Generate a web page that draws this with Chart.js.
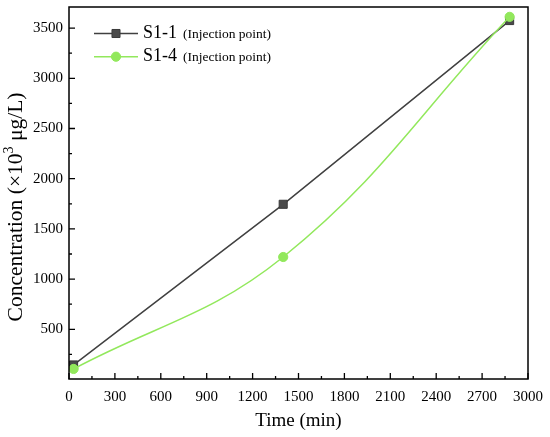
<!DOCTYPE html>
<html>
<head>
<meta charset="utf-8">
<script src="https://cdn.jsdelivr.net/npm/chart.js@4.4.1/dist/chart.umd.min.js"></script>
<style>
    html, body { margin: 0; padding: 0; background: #fff; }
</style>
</head>
<body>
<canvas id="grafico" width="550" height="437"></canvas>
<script>
// Datos
const tiempo = [30, 1400, 2880];              // min
const s1_1 = [145, 1745, 3575];               // x10^3 ug/L
const s1_4 = [105, 1220, 3612];
const nombres = ['S1-1', 'S1-4'];
const nota = '(Injection point)';

const ticksX = [0, 300, 600, 900, 1200, 1500, 1800, 2100, 2400, 2700, 3000];
const menoresX = [150, 450, 750, 1050, 1350, 1650, 1950, 2250, 2550, 2850];
const ticksY = [500, 1000, 1500, 2000, 2500, 3000, 3500];
const menoresY = [250, 750, 1250, 1750, 2250, 2750, 3250];

const fuente = 'Liberation Serif, Times New Roman, serif';
const colores = ['#404040', '#92e85c'];

// Marco, ticks hacia adentro, titulo del eje Y y leyenda
const marcoPlugin = {
    id: 'marco',
    afterDraw(chart) {
        const ctx = chart.ctx;
        const area = chart.chartArea;
        const x = chart.scales.x;
        const y = chart.scales.y;
        ctx.save();

        ctx.strokeStyle = '#000';
        ctx.lineWidth = 1.5;
        ctx.strokeRect(area.left, area.top, area.right - area.left, area.bottom - area.top);

        ctx.lineWidth = 1.3;
        ctx.beginPath();
        ticksX.forEach(v => {
            const px = x.getPixelForValue(v);
            ctx.moveTo(px, area.bottom); ctx.lineTo(px, area.bottom - 6);
        });
        menoresX.forEach(v => {
            const px = x.getPixelForValue(v);
            ctx.moveTo(px, area.bottom); ctx.lineTo(px, area.bottom - 3);
        });
        ticksY.forEach(v => {
            const py = y.getPixelForValue(v);
            ctx.moveTo(area.left, py); ctx.lineTo(area.left + 6, py);
        });
        menoresY.forEach(v => {
            const py = y.getPixelForValue(v);
            ctx.moveTo(area.left, py); ctx.lineTo(area.left + 3, py);
        });
        ctx.stroke();

        // titulo eje Y con superindice
        ctx.translate(16, 207);
        ctx.rotate(-Math.PI / 2);
        ctx.fillStyle = '#000';
        ctx.textBaseline = 'middle';
        ctx.textAlign = 'left';
        const p1 = 'Concentration (\u00d710', sup = '3', p2 = ' \u03bcg/L)';
        ctx.font = '21.5px ' + fuente;
        const w1 = ctx.measureText(p1).width, w2 = ctx.measureText(p2).width;
        ctx.font = '14px ' + fuente;
        const ws = ctx.measureText(sup).width;
        let cx = -(w1 + ws + w2) / 2;
        ctx.font = '21.5px ' + fuente;
        ctx.fillText(p1, cx, 0);
        cx += w1;
        ctx.font = '14px ' + fuente;
        ctx.fillText(sup, cx, -6.5);
        cx += ws;
        ctx.font = '21.5px ' + fuente;
        ctx.fillText(p2, cx, 0);
        ctx.restore();

        // leyenda
        ctx.save();
        const filas = [33.5, 56.7];
        chart.data.datasets.forEach((ds, i) => {
            const fy = filas[i];
            ctx.strokeStyle = ds.borderColor;
            ctx.lineWidth = 1.5;
            ctx.beginPath();
            ctx.moveTo(94, fy); ctx.lineTo(138, fy);
            ctx.stroke();
            ctx.fillStyle = ds.pointBackgroundColor;
            ctx.strokeStyle = ds.pointBorderColor;
            ctx.lineWidth = 1;
            ctx.beginPath();
            if (ds.pointStyle === 'rect') {
                const s = ds.pointRadius * Math.SQRT1_2;
                ctx.rect(116 - s, fy - s, 2 * s, 2 * s);
            } else {
                ctx.arc(116, fy, ds.pointRadius, 0, Math.PI * 2);
            }
            ctx.fill();
            ctx.stroke();
            ctx.fillStyle = '#000';
            ctx.textBaseline = 'middle';
            ctx.font = '18px ' + fuente;
            ctx.fillText(nombres[i], 143, fy);
            const w = ctx.measureText(nombres[i]).width;
            ctx.font = '13.5px ' + fuente;
            ctx.fillText(nota, 143 + w + 6, fy + 0.5);
        });
        ctx.restore();
    }
};

const puntos = serie => tiempo.map((t, i) => ({ x: t, y: serie[i] }));

// quitar el relleno automatico que Chart.js reserva para las etiquetas
const sinRelleno = s => {
    s.paddingTop = 0; s.paddingBottom = 0;
    s.paddingLeft = 0; s.paddingRight = 0;
};

new Chart(document.getElementById('grafico'), {
    type: 'line',
    data: {
        datasets: [{
            label: nombres[0],
            data: puntos(s1_1),
            borderColor: colores[0],
            borderWidth: 1.5,
            pointStyle: 'rect',
            pointRadius: 5.7,
            pointBackgroundColor: '#4a4a4a',
            pointBorderColor: '#3a3a3a',
            pointBorderWidth: 1,
            tension: 0,
            order: 1
        }, {
            label: nombres[1],
            data: puntos(s1_4),
            borderColor: colores[1],
            borderWidth: 1.5,
            pointStyle: 'circle',
            pointRadius: 4.6,
            pointBackgroundColor: colores[1],
            pointBorderColor: colores[1],
            pointBorderWidth: 1,
            tension: 0.4,
            order: 0
        }]
    },
    options: {
        responsive: false,
        animation: false,
        layout: { padding: { left: 0, right: 22, top: 7, bottom: 0 } },
        plugins: {
            legend: { display: false },
            tooltip: { enabled: false }
        },
        scales: {
            x: {
                type: 'linear',
                min: 0,
                max: 3000,
                afterFit: s => { s.height = 58; sinRelleno(s); },
                afterBuildTicks: s => { s.ticks = ticksX.map(v => ({ value: v })); },
                grid: { display: false, drawTicks: false },
                border: { display: false },
                ticks: {
                    color: '#000',
                    padding: 9,
                    maxRotation: 0,
                    callback: v => String(v),
                    font: { family: fuente, size: 15 }
                },
                title: {
                    display: true,
                    text: 'Time (min)',
                    color: '#000',
                    padding: { top: 0, bottom: 5 },
                    font: { family: fuente, size: 19 }
                }
            },
            y: {
                type: 'linear',
                min: 5,
                max: 3710,
                afterFit: s => { s.width = 69; sinRelleno(s); },
                afterBuildTicks: s => { s.ticks = ticksY.map(v => ({ value: v })); },
                grid: { display: false, drawTicks: false },
                border: { display: false },
                ticks: {
                    color: '#000',
                    padding: 6,
                    callback: v => String(v),
                    font: { family: fuente, size: 15 }
                }
            }
        }
    },
    plugins: [marcoPlugin]
});
</script>
</body>
</html>
